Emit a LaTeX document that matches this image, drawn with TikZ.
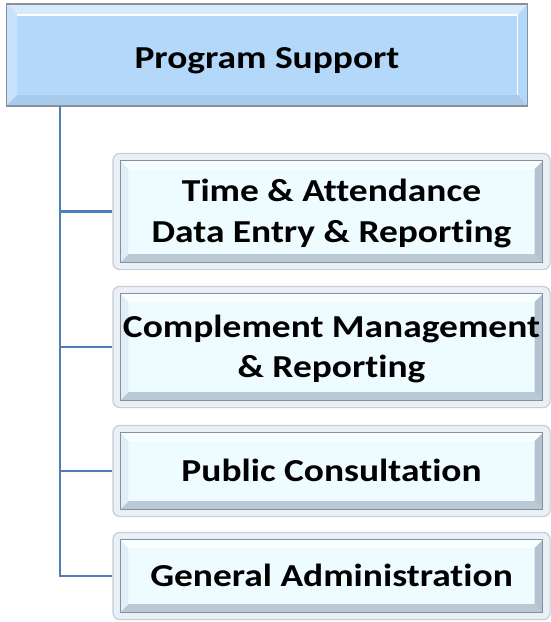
\documentclass[tikz,border=0pt]{standalone}
\usepackage{fontspec}
\setmainfont{Carlito}[Ligatures=NoCommon, FakeStretch=1.17]
\usetikzlibrary{calc,backgrounds}
\definecolor{linkblue}{HTML}{4E7FB8}
\definecolor{topfill}{HTML}{B4D8FA}
\definecolor{topedge}{HTML}{8A9099}
\definecolor{framefill}{HTML}{EAF0F5}
\definecolor{frameedge}{HTML}{C3CED9}
\definecolor{innerfill}{HTML}{EEFBFF}
\definecolor{bevlight}{HTML}{F9FEFF}
\definecolor{bevleft}{HTML}{E0EEF7}
\definecolor{bevright}{HTML}{B3C3D1}
\definecolor{bevbottom}{HTML}{BAC9D6}
\definecolor{inneredge}{HTML}{84909C}
\tikzset{
  lbl/.style={font=\bfseries\fontsize{32bp}{40.5bp}\selectfont, align=center,
    text height=20.6bp, text depth=0pt, inner sep=0pt, draw=none},
  childbox/.style={lbl, minimum width=438bp},
  twoline/.style={text height=61.1bp},
  link/.style={draw=linkblue, line width=2.5bp},
  frame/.style={fill=framefill, draw=frameedge, line width=1.2bp, rounded corners=7bp},
}
\newcommand\childframe[1]{%
  \draw[frame] ($(#1.north west)+(0.6,0.6)$) rectangle ($(#1.south east)+(-0.6,-0.6)$);
  \coordinate (#1a) at ($(#1.north west)+(8,8)$);
  \coordinate (#1b) at ($(#1.south east)+(-8,-8)$);
  \fill[innerfill] (#1a) rectangle (#1b);
  \fill[bevlight] (#1a) -- (#1a -| #1b) -- ($(#1a -| #1b)+(-8,8)$) -- ($(#1a)+(8,8)$) -- cycle;
  \fill[bevbottom] (#1b) -- (#1a |- #1b) -- ($(#1a |- #1b)+(8,-8)$) -- ($(#1b)+(-8,-8)$) -- cycle;
  \fill[bevleft] (#1a) -- ($(#1a)+(8,8)$) -- ($(#1a |- #1b)+(8,-8)$) -- (#1a |- #1b) -- cycle;
  \fill[bevright] (#1a -| #1b) -- (#1b) -- ($(#1b)+(-8,-8)$) -- ($(#1a -| #1b)+(-8,8)$) -- cycle;
  \draw[inneredge, line width=1.2bp] (#1a) rectangle (#1b);
}
\begin{document}
\begin{tikzpicture}[x=1bp,y=-1bp]
\useasboundingbox (0,0) rectangle (551,622);
% nodes
\node[lbl, minimum width=521bp, minimum height=102bp, text height=28bp] (top) at (267,55) {Program Support};
\node[childbox, twoline, minimum height=117bp] (c1) at (331.5,211.5) {Time \& Attendance\\Data Entry \& Reporting};
\node[childbox, twoline, minimum height=122bp] (c2) at (331.5,347) {Complement Management\\\& Reporting};
\node[childbox, minimum height=92bp] (c3) at (331.5,471) {Public Consultation};
\node[childbox, minimum height=88bp] (c4) at (331.5,576) {General Administration};
\coordinate (trunk) at ($(top.south west)+(53.5,0)$);
\begin{scope}[on background layer]
  % top box
  \fill[topfill] (top.north west) rectangle (top.south east);
  \fill[white!45!topfill] (top.north west) -- (top.north east) -- ($(top.north east)+(-10,11)$) -- ($(top.north west)+(11,11)$) -- cycle;
  \fill[white!25!topfill] (top.north west) -- ($(top.north west)+(11,11)$) -- ($(top.south west)+(11,-11)$) -- (top.south west) -- cycle;
  \fill[black!6!topfill] (top.south west) -- (top.south east) -- ($(top.south east)+(-10,-11)$) -- ($(top.south west)+(11,-11)$) -- cycle;
  \draw[white, line width=1.5bp] ($(top.north west)+(11,11)$) -- ($(top.north east)+(-10,11)$) -- ($(top.south east)+(-10,-11)$);
  \draw[topedge, line width=1.5bp] (top.north west) rectangle (top.south east);
  % child frames
  \childframe{c1}
  \childframe{c2}
  \childframe{c3}
  \childframe{c4}
  % connectors
  \draw[link] (trunk) |- (c4.west);
  \draw[link] (trunk |- c1.west) -- (c1.west);
  \draw[link] (trunk |- c2.west) -- (c2.west);
  \draw[link] (trunk |- c3.west) -- (c3.west);
\end{scope}
\end{tikzpicture}
\end{document}
